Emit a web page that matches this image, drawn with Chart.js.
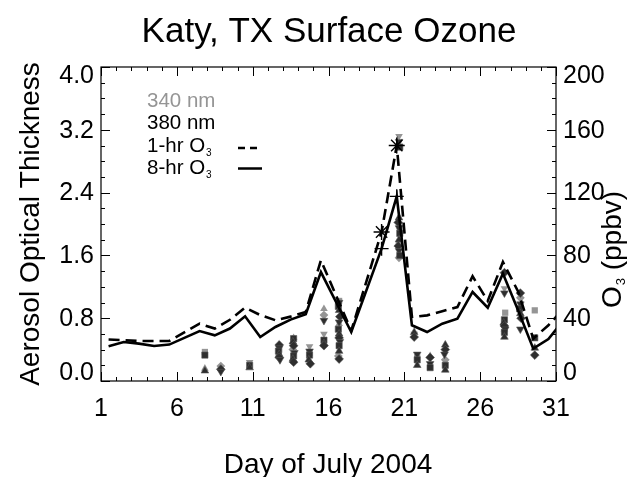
<!DOCTYPE html>
<html>
<head>
<meta charset="utf-8">
<script src="https://cdn.jsdelivr.net/npm/chart.js@4"></script>
<style>
  html, body { margin: 0; padding: 0; background: #fff; }
  #wrap { width: 642px; height: 477px; }
</style>
</head>
<body>
<div id="wrap"><canvas id="chart" width="642" height="477"></canvas></div>
<script>
// Surface ozone (ppbv), daily maxima plotted at mid-day
const o3Days = [1.5, 2.5, 3.5, 4.5, 5.5, 7.5, 8.5, 9.5, 10.5, 11.5, 12.5, 13.5, 14.5, 15.5,
  17.5, 19.5, 20.5, 21.5, 22.5, 23.5, 24.5, 25.5, 26.5, 27.5, 28.5, 29.5, 30.5, 31.5];
const o3OneHour = [26.4, 26, 25.5, 25.5, 25.5, 36.5, 33.4, 39, 46.7, 42, 38.7, 41, 44, 76.9,
  32, 94.9, 150, 40.8, 41.8, 44.4, 47.1, 66.7, 51, 75.8, 57, 27, 35.5, 46];
const o3EightHour = [22.1, 24.8, 23.8, 22.3, 23.2, 31.8, 29.1, 33.4, 41.2, 28, 34.4, 39.1, 42.5, 69.4,
  31.2, 84.3, 117.6, 35.5, 31.2, 36.5, 39.7, 56.7, 46.7, 68.4, 45, 20.6, 26.7, 38.7];

// exceedance days
const exceedDays = [19.5, 20.5];
const exceedOneHour = [94.9, 150];
const exceedEightHour = [84.3, 117.6];

// aerosol optical thickness
const days340 = [7.85, 7.85, 8.9, 10.8, 12.75, 13.7, 13.65, 14.75, 14.75, 15.7, 15.7, 15.7,
  16.7, 16.7, 16.65, 20.65, 20.7, 20.65, 20.65, 21.65, 21.85, 22.7, 23.7,
  27.6, 27.65, 27.6, 28.65, 28.6, 29.6];
const aot340 = [0.37, 0.16, 0.19, 0.24, 0.4, 0.55, 0.4, 0.44, 0.36, 0.92, 0.84, 0.6,
  1.02, 0.73, 0.32, 3.12, 1.95, 1.78, 1.57, 0.6, 0.3, 0.32, 0.27,
  1.18, 0.87, 0.66, 1.06, 0.9, 0.9];

const days380 = [7.85, 7.85, 8.9, 8.9, 10.8, 10.8, 12.75, 12.75, 12.7, 12.75, 12.75, 12.8,
  13.7, 13.65, 13.7, 13.75, 13.7, 13.65, 13.7, 14.75, 14.75, 14.7, 14.8, 15.7, 15.7, 15.7, 15.7,
  16.7, 16.65, 16.7, 16.75, 16.7, 16.65, 16.7, 16.7, 16.75, 16.7, 16.7, 16.7,
  20.65, 20.7, 20.65, 20.6, 20.65, 20.7, 20.65, 20.6, 20.65, 20.7,
  21.65, 21.65, 21.85, 21.85, 21.85, 22.7, 22.7, 22.7, 23.7, 23.7, 23.65, 23.7, 23.7,
  27.6, 27.6, 27.6, 27.55, 27.6, 27.65, 27.6, 27.6,
  28.65, 28.65, 28.6, 28.65, 28.7, 28.65, 29.6, 29.6, 29.6];
const aot380 = [0.33, 0.13, 0.15, 0.12, 0.2, 0.17, 0.46, 0.42, 0.38, 0.34, 0.3, 0.27,
  0.54, 0.5, 0.45, 0.36, 0.32, 0.28, 0.24, 0.38, 0.33, 0.27, 0.22, 0.77, 0.52, 0.48, 0.45,
  1.0, 0.95, 0.9, 0.82, 0.75, 0.66, 0.6, 0.55, 0.5, 0.45, 0.38, 0.28,
  3.05, 2.98, 2.08, 2.02, 1.95, 1.88, 1.8, 1.72, 1.66, 1.6,
  0.62, 0.56, 0.34, 0.27, 0.2, 0.3, 0.22, 0.17, 0.46, 0.4, 0.34, 0.2, 0.14,
  1.38, 1.12, 0.78, 0.74, 0.7, 0.66, 0.62, 0.56,
  1.12, 0.98, 0.92, 0.86, 0.8, 0.66, 0.55, 0.42, 0.33];

const dayTicks = [1, 6, 11, 16, 21, 26, 31];
const aotTicks = [0, 0.8, 1.6, 2.4, 3.2, 4.0];
const ppbTicks = [0, 40, 80, 120, 160, 200];

const FONT = "'Liberation Sans', Arial, Helvetica, sans-serif";
const GREY = '#959595';
const DARK = '#2e2e2e';

function pts(xs, ys) {
  return xs.map((x, i) => ({ x: x, y: ys[i] }));
}

const shapes = ['rect', 'triangle', 'rectRot', 'triangle'];
function shapeOf(ctx) { return shapes[ctx.dataIndex % 4]; }
function rotOf(ctx) { return ctx.dataIndex % 4 === 3 ? 180 : 0; }

// IDL style frame, inward ticks, tick labels, titles and legend
const decor = {
  id: 'decor',
  afterDraw(chart) {
    const c = chart.ctx;
    const a = chart.chartArea;
    const sx = chart.scales.x, sy = chart.scales.y, sy2 = chart.scales.y2;
    c.save();
    c.strokeStyle = '#000';
    c.lineWidth = 1.2;
    c.strokeRect(a.left, a.top, a.right - a.left, a.bottom - a.top);

    c.lineWidth = 1;
    c.beginPath();
    for (let d = 1; d <= 31; d++) {
      const px = Math.round(sx.getPixelForValue(d)) + 0.5;
      const len = (d - 1) % 5 === 0 ? 9 : 4;
      c.moveTo(px, a.bottom); c.lineTo(px, a.bottom - len);
      c.moveTo(px, a.top); c.lineTo(px, a.top + len);
    }
    for (let i = 0; i <= 20; i++) {
      const py = Math.round(sy.getPixelForValue(i * 0.2)) + 0.5;
      const len = i % 4 === 0 ? 9 : 4;
      c.moveTo(a.left, py); c.lineTo(a.left + len, py);
    }
    for (let i = 0; i <= 20; i++) {
      const py = Math.round(sy2.getPixelForValue(i * 10)) + 0.5;
      const len = i % 4 === 0 ? 9 : 4;
      c.moveTo(a.right, py); c.lineTo(a.right - len, py);
    }
    c.stroke();

    // y tick labels, end labels kept inside the frame like the original
    c.fillStyle = '#000';
    c.font = '25px ' + FONT;
    c.textBaseline = 'middle';
    const clampY = y => Math.min(Math.max(y, a.top + 8), a.bottom - 9);
    c.textAlign = 'right';
    aotTicks.forEach(v => c.fillText(v.toFixed(1), a.left - 7, clampY(sy.getPixelForValue(v)) + 1));
    c.textAlign = 'left';
    ppbTicks.forEach(v => c.fillText(String(v), a.right + 7, clampY(sy2.getPixelForValue(v)) + 1));

    c.textAlign = 'center';
    c.textBaseline = 'alphabetic';
    c.font = '35px ' + FONT;
    c.fillText('Katy, TX Surface Ozone', 329, 42);

    c.font = '28px ' + FONT;
    c.fillText('Day of July 2004', 328, 473);

    c.save();
    c.translate(39, 224);
    c.rotate(-Math.PI / 2);
    c.fillText('Aerosol Optical Thickness', 0, 0);
    c.restore();

    // right axis title with subscript
    c.save();
    c.translate(621, 250);
    c.rotate(-Math.PI / 2);
    c.textAlign = 'left';
    c.font = '28px ' + FONT;
    const wO = c.measureText('O').width;
    c.font = '13px ' + FONT;
    const w3 = c.measureText('3').width;
    c.font = '28px ' + FONT;
    const wRest = c.measureText(' (ppbv)').width;
    let x0 = -(wO + w3 + wRest) / 2;
    c.fillText('O', x0, 0);
    c.font = '13px ' + FONT;
    c.fillText('3', x0 + wO + 1, 4);
    c.font = '28px ' + FONT;
    c.fillText(' (ppbv)', x0 + wO + w3 + 1, 0);
    c.restore();

    // legend
    c.textAlign = 'left';
    c.textBaseline = 'middle';
    const lx = 147;
    const rows = [101, 123, 146, 168.5];
    c.font = '20.5px ' + FONT;
    c.fillStyle = GREY;
    c.fillText('340 nm', lx, rows[0]);
    c.fillStyle = '#000';
    c.fillText('380 nm', lx, rows[1]);
    ['1-hr O', '8-hr O'].forEach((t, i) => {
      c.font = '20.5px ' + FONT;
      const w = c.measureText(t).width;
      c.fillText(t, lx, rows[i + 2]);
      c.font = '10px ' + FONT;
      c.fillText('3', lx + w + 1, rows[i + 2] + 7);
    });
    c.lineWidth = 2.5;
    c.setLineDash([7, 5]);
    c.beginPath(); c.moveTo(238, rows[2] + 2); c.lineTo(262, rows[2] + 2); c.stroke();
    c.setLineDash([]);
    c.beginPath(); c.moveTo(238, rows[3]); c.lineTo(262, rows[3]); c.stroke();
    c.restore();
  }
};

const ctx = document.getElementById('chart').getContext('2d');

new Chart(ctx, {
  type: 'scatter',
  data: {
    datasets: [
      {
        label: '340 nm',
        data: pts(days340, aot340),
        yAxisID: 'y',
        pointStyle: shapeOf,
        rotation: rotOf,
        pointRadius: 4.4,
        backgroundColor: GREY,
        borderColor: GREY,
        borderWidth: 0,
        order: 4
      },
      {
        label: '380 nm',
        data: pts(days380, aot380),
        yAxisID: 'y',
        pointStyle: shapeOf,
        rotation: rotOf,
        pointRadius: 4.4,
        backgroundColor: DARK,
        borderColor: '#555',
        borderWidth: 0.6,
        order: 3
      },
      {
        type: 'line',
        label: '1-hr O3',
        data: pts(o3Days, o3OneHour),
        yAxisID: 'y2',
        borderColor: '#000',
        borderWidth: 2.6,
        borderDash: [11, 6],
        pointRadius: 0,
        fill: false,
        tension: 0,
        clip: 0,
        order: 2
      },
      {
        type: 'line',
        label: '8-hr O3',
        data: pts(o3Days, o3EightHour),
        yAxisID: 'y2',
        borderColor: '#000',
        borderWidth: 2.6,
        pointRadius: 0,
        fill: false,
        tension: 0,
        clip: 0,
        order: 1
      },
      {
        label: '1-hr exceedance',
        data: pts(exceedDays, exceedOneHour),
        yAxisID: 'y2',
        pointStyle: 'star',
        pointRadius: 8,
        borderColor: '#000',
        borderWidth: 1.4,
        backgroundColor: '#000',
        order: 0
      },
      {
        label: '8-hr exceedance',
        data: pts(exceedDays, exceedEightHour),
        yAxisID: 'y2',
        pointStyle: 'cross',
        pointRadius: 7,
        borderColor: '#000',
        borderWidth: 1.4,
        order: 0
      }
    ]
  },
  options: {
    responsive: false,
    animation: false,
    events: [],
    layout: { padding: { top: 67, left: 0, right: 0, bottom: 0 } },
    plugins: {
      legend: { display: false },
      title: { display: false },
      tooltip: { enabled: false }
    },
    scales: {
      x: {
        type: 'linear',
        position: 'bottom',
        min: 1,
        max: 31,
        afterBuildTicks: s => { s.ticks = dayTicks.map(v => ({ value: v })); },
        afterFit: s => { s.height = 96; },
        grid: { display: false, drawTicks: false },
        border: { display: false },
        ticks: { color: '#000', font: { family: FONT, size: 25 }, padding: 13, maxRotation: 0 }
      },
      y: {
        type: 'linear',
        position: 'left',
        min: 0,
        max: 4,
        afterBuildTicks: s => { s.ticks = aotTicks.map(v => ({ value: v })); },
        afterFit: s => { s.width = 101; },
        grid: { display: false, drawTicks: false },
        border: { display: false },
        ticks: { display: false }
      },
      y2: {
        type: 'linear',
        position: 'right',
        min: 0,
        max: 200,
        afterBuildTicks: s => { s.ticks = ppbTicks.map(v => ({ value: v })); },
        afterFit: s => { s.width = 86; },
        grid: { display: false, drawTicks: false },
        border: { display: false },
        ticks: { display: false }
      }
    }
  },
  plugins: [decor]
});
</script>
</body>
</html>
